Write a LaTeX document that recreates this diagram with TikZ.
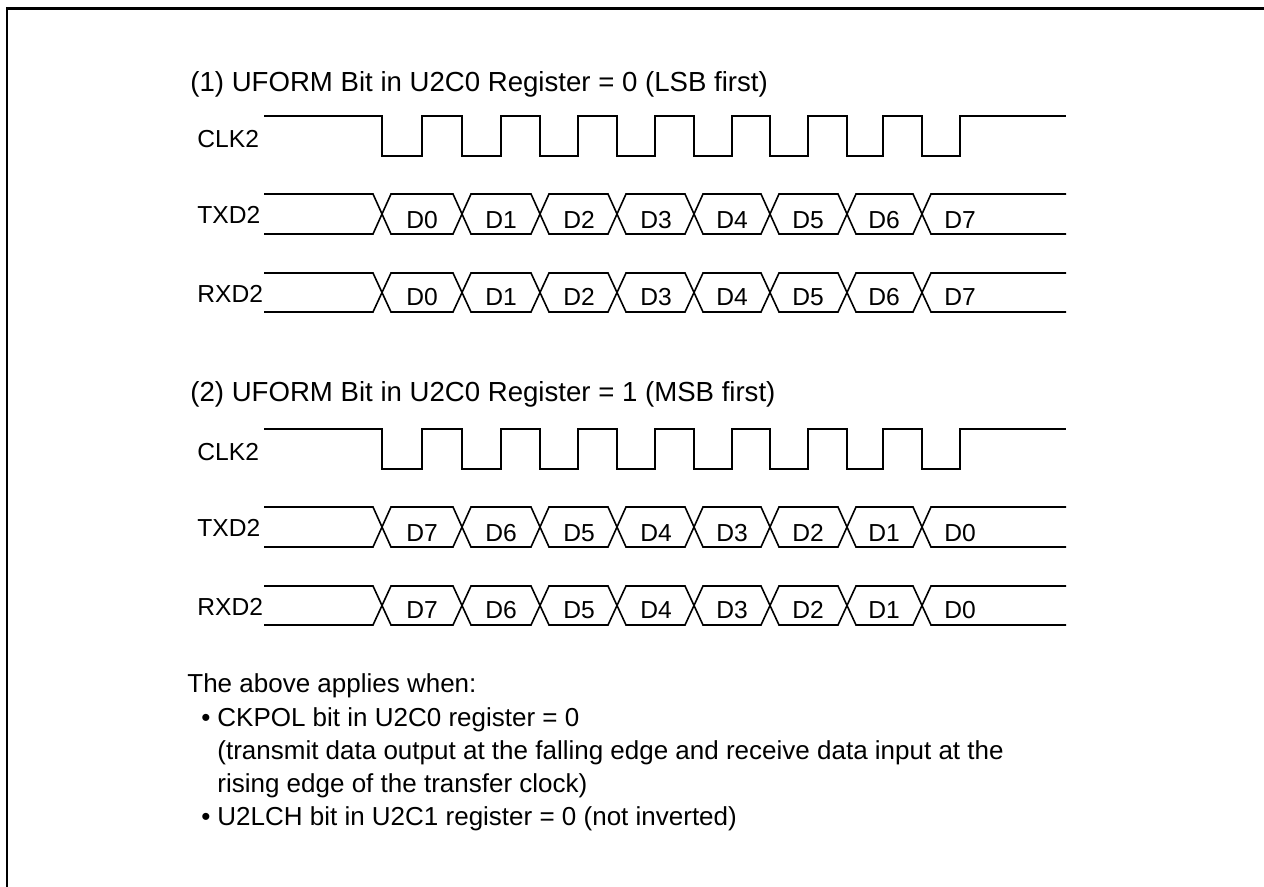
\documentclass[tikz,border=0pt]{standalone}
\usepackage{fontspec}
\setmainfont{Liberation Sans}
\begin{document}
\begin{tikzpicture}[x=0.5pt,y=-0.5pt,
  sig/.style={line width=0.8pt,line join=miter},
  frame/.style={line width=1.3pt},
  title/.style={anchor=base west,inner sep=0pt,font=\fontsize{13.8}{16.5}\selectfont},
  body/.style={anchor=base west,inner sep=0pt,font=\fontsize{13.0}{16.5}\selectfont},
  siglabel/.style={anchor=west,inner sep=0pt,font=\fontsize{12.3}{14}\selectfont},
  datalabel/.style={anchor=center,inner sep=0pt,font=\fontsize{12.3}{14}\selectfont}]
\useasboundingbox (0,0) rectangle (1264,887);
\fill[white] (0,0) rectangle (1264,887);
% frame
\draw[frame] (7,887) -- (7,8.7) -- (1264,8.7);

% titles
\node[title] (t1) at (190,92) {(1) UFORM Bit in U2C0 Register = 0 (LSB first)};
\node[title] (t2) at (190,402) {(2) UFORM Bit in U2C0 Register = 1 (MSB first)};

\foreach \yo/\s in {0/1,313/2}{
  % labels
  \node[siglabel] (clk\s) at (197,139+\yo) {CLK2};
  \node[siglabel] (txd\s) at (197,215+\yo) {TXD2};
  \node[siglabel] (rxd\s) at (197,294+\yo) {RXD2};
  % clock
  \draw[sig] (264,116+\yo)
    \foreach \f/\r in {382/422,462/501,540/578,617/655,694/732,770/808,847/883,922/960}{
      -- (\f,116+\yo) -- (\f,156+\yo) -- (\r,156+\yo) -- (\r,116+\yo) }
    -- (1066,116+\yo);
  % buses
  \foreach \t/\b in {194/234,273/312}{
    \draw[sig] (264,\t+\yo)
      \foreach \c/\d in {382/462,540/617,694/770,847/922}{
        -- (\c-9,\t+\yo) -- (\c+9,\b+\yo) -- (\d-9,\b+\yo) -- (\d+9,\t+\yo) }
      -- (1066,\t+\yo);
    \draw[sig] (264,\b+\yo)
      \foreach \c/\d in {382/462,540/617,694/770,847/922}{
        -- (\c-9,\b+\yo) -- (\c+9,\t+\yo) -- (\d-9,\t+\yo) -- (\d+9,\b+\yo) }
      -- (1066,\b+\yo);
  }
}
% data labels section 1
\foreach \x/\n [count=\i] in {422/0,501/1,579/2,656/3,732/4,808/5,884/6,960/7}{
  \node[datalabel] (a\i) at (\x,220) {D\n};
  \node[datalabel] (b\i) at (\x,297) {D\n};
}
% data labels section 2
\foreach \x/\n [count=\i] in {422/7,501/6,579/5,656/4,732/3,808/2,884/1,960/0}{
  \node[datalabel] (c\i) at (\x,533) {D\n};
  \node[datalabel] (d\i) at (\x,610) {D\n};
}

% notes
\node[body] (n0) at (187,692) {The above applies when:};
\node[body] (bu1) at (201,726) {•};
\node[body] (n1) at (217,726) {CKPOL bit in U2C0 register = 0};
\node[body] (n2) at (217,759) {(transmit data output at the falling edge and receive data input at the};
\node[body] (n3) at (217,792) {rising edge of the transfer clock)};
\node[body] (bu2) at (201,825) {•};
\node[body] (n4) at (217,825) {U2LCH bit in U2C1 register = 0 (not inverted)};
\end{tikzpicture}
\end{document}
